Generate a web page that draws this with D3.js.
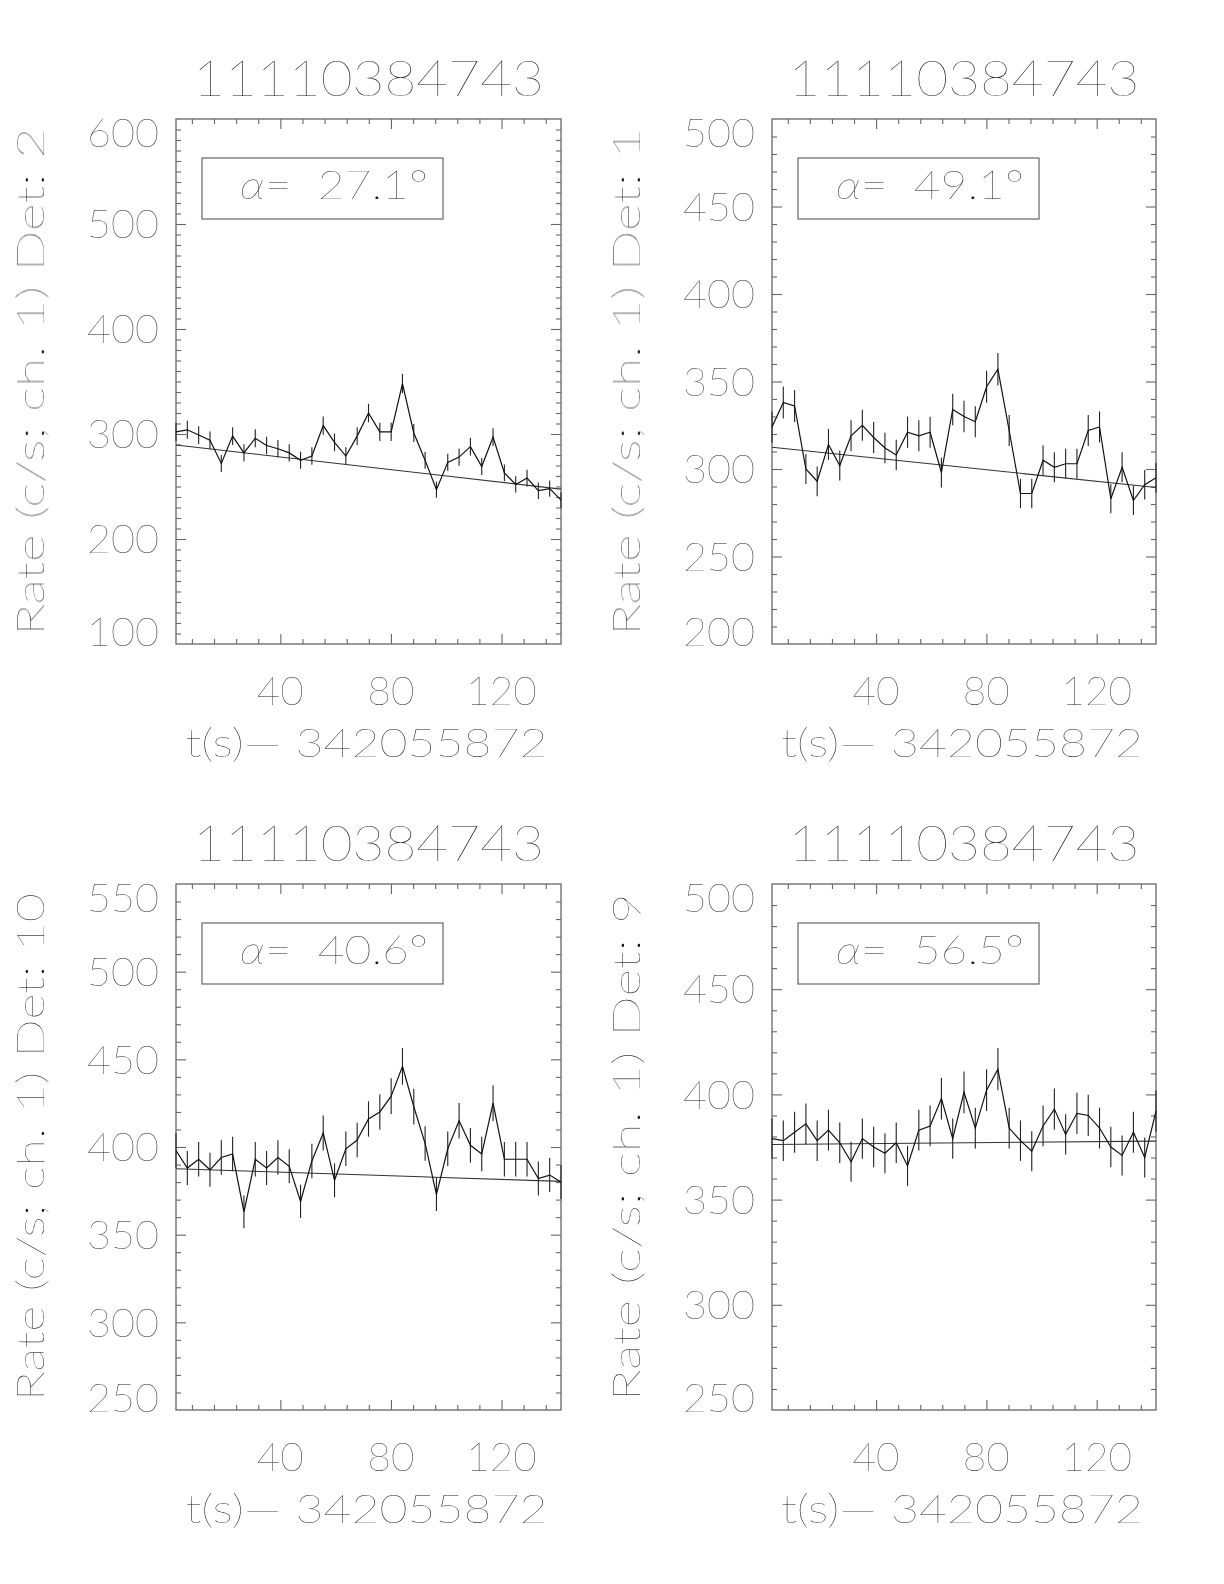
<!DOCTYPE html>
<html><head><meta charset="utf-8">
<script src="https://cdn.jsdelivr.net/npm/d3@7"></script>
<style>
body{margin:0;background:#fff}
svg text{font-family:Lato, Roboto, Inter, "DejaVu Sans", sans-serif;font-weight:100;fill:#111}
.txt{opacity:0.995}
</style></head><body>
<svg id="c" width="1224" height="1584"></svg>
<script>
// ---- data ----
const times = [2.25, 6.346, 10.442, 14.538, 18.634, 22.73, 26.826, 30.922, 35.018, 39.114, 43.21, 47.306, 51.402, 55.498, 59.594, 63.69, 67.786, 71.882, 75.978, 80.074, 84.17, 88.266, 92.362, 96.458, 100.554, 104.65, 108.746, 112.842, 116.938, 121.034, 125.13, 129.226, 133.322, 137.418, 141.514];

const rateDet2 = [302,304,299,294,272,298,282,296,289,286,282,275,279,308,292,279,298,320,302,302,348,301,275,247,273,278,288,269,297,263,252,258,246,248,237];
const errDet2  = [8.6,8.6,8.5,8.5,8.1,8.5,8.3,8.5,8.4,8.4,8.3,8.2,8.3,8.7,8.4,8.3,8.5,8.8,8.6,8.6,9.2,8.6,8.2,7.8,8.2,8.2,8.4,8.1,8.5,8.0,7.8,7.9,7.8,7.8,7.6];
const fitDet2  = [289.5, 247.5];

const rateDet1 = [324,338,336,300,293,314,302,319,325,318,312,308,321,319,321,298,334,330,327,347,357,322,286,286,305,301,303,303,322,324,283,301,282,291,295];
const errDet1  = [8.9,9.1,9.1,8.6,8.5,8.8,8.6,8.8,8.9,8.8,8.7,8.7,8.9,8.8,8.9,8.5,9.0,9.0,8.9,9.2,9.3,8.9,8.4,8.4,8.6,8.6,8.6,8.6,8.9,8.9,8.3,8.6,8.3,8.4,8.5];
const fitDet1  = [312.4, 289.4];

const rateDet10 = [398,388,393,387,394,396,363,393,388,394,389,369,392,408,381,399,404,416,420,429,446,423,402,373,399,415,401,396,425,393,393,393,382,384,380];
const errDet10  = [9.9,9.7,9.8,9.7,9.8,9.8,9.4,9.8,9.7,9.8,9.7,9.5,9.8,10.0,9.6,9.9,9.9,10.1,10.1,10.2,10.4,10.2,9.9,9.5,9.9,10.1,9.9,9.8,10.2,9.8,9.8,9.8,9.7,9.7,9.6];
const fitDet10  = [387.6, 380.4];

const rateDet9 = [379,378,382,386,378,383,377,368,379,375,372,377,366,383,385,398,379,401,384,402,412,384,378,373,385,393,381,391,390,384,375,371,382,370,392];
const errDet9  = [9.6,9.6,9.7,9.7,9.6,9.7,9.6,9.5,9.6,9.6,9.5,9.6,9.5,9.7,9.7,9.9,9.6,9.9,9.7,9.9,10.0,9.7,9.6,9.5,9.7,9.8,9.6,9.8,9.8,9.7,9.6,9.5,9.7,9.5,9.8];
const fitDet9  = [376.2, 377.8];

const titleText = "11110384743";
const xTitleText = "t(s)\u2014 342055872";
const detectors = ["2", "1", "10", "9"];
const alphas = ["27.1", "49.1", "40.6", "56.5"];
const xMajorTicks = [40, 80, 120];
const xMinorStep = 8;
const yTicksDet2 = [100, 200, 300, 400, 500, 600];
const yTicksDet1 = [200, 250, 300, 350, 400, 450, 500];
const yTicksDet10 = [250, 300, 350, 400, 450, 500, 550];
const yTicksDet9 = [250, 300, 350, 400, 450, 500];
const yMinorStep = 10;

// ---- layout ----
const panels = [
  {x0:176, x1:561, y0:119, y1:644, rate:rateDet2, err:errDet2, fit:fitDet2, yticks:yTicksDet2, det:detectors[0], alpha:alphas[0]},
  {x0:772, x1:1156, y0:119, y1:644, rate:rateDet1, err:errDet1, fit:fitDet1, yticks:yTicksDet1, det:detectors[1], alpha:alphas[1]},
  {x0:176, x1:561, y0:884, y1:1410, rate:rateDet10, err:errDet10, fit:fitDet10, yticks:yTicksDet10, det:detectors[2], alpha:alphas[2]},
  {x0:772, x1:1156, y0:884, y1:1410, rate:rateDet9, err:errDet9, fit:fitDet9, yticks:yTicksDet9, det:detectors[3], alpha:alphas[3]}
];

const svg = d3.select("#c");
const frameCol = "#666";

panels.forEach(p => {
  const g = svg.append("g");
  const tg = g.append("g").attr("class", "txt");
  const x = d3.scaleLinear().domain([times[0], times[times.length-1]]).range([p.x0, p.x1]);
  const ydom = [p.yticks[0], p.yticks[p.yticks.length-1]];
  const y = d3.scaleLinear().domain(ydom).range([p.y1, p.y0]);

  const xMinor = d3.range(xMinorStep, times[times.length-1], xMinorStep).filter(v => v > times[0] && !xMajorTicks.includes(v));
  const yMinor = d3.range(ydom[0] + yMinorStep, ydom[1], yMinorStep).filter(v => !p.yticks.includes(v));
  const yMajorInner = p.yticks.filter(v => v > ydom[0] && v < ydom[1]);

  function styleAxis(sel){
    sel.select(".domain").remove();
    sel.selectAll(".tick line").attr("stroke", frameCol).attr("stroke-width", 1.1);
    sel.selectAll(".tick text").remove();
  }
  g.append("g").attr("transform", `translate(0,${p.y1})`).call(d3.axisBottom(x).tickValues(xMajorTicks).tickSize(-10).tickFormat("")).call(styleAxis);
  g.append("g").attr("transform", `translate(0,${p.y1})`).call(d3.axisBottom(x).tickValues(xMinor).tickSize(-5).tickFormat("")).call(styleAxis);
  g.append("g").attr("transform", `translate(0,${p.y0})`).call(d3.axisTop(x).tickValues(xMajorTicks).tickSize(-10).tickFormat("")).call(styleAxis);
  g.append("g").attr("transform", `translate(0,${p.y0})`).call(d3.axisTop(x).tickValues(xMinor).tickSize(-5).tickFormat("")).call(styleAxis);
  g.append("g").attr("transform", `translate(${p.x0},0)`).call(d3.axisLeft(y).tickValues(yMajorInner).tickSize(-10).tickFormat("")).call(styleAxis);
  g.append("g").attr("transform", `translate(${p.x0},0)`).call(d3.axisLeft(y).tickValues(yMinor).tickSize(-5).tickFormat("")).call(styleAxis);
  g.append("g").attr("transform", `translate(${p.x1},0)`).call(d3.axisRight(y).tickValues(yMajorInner).tickSize(-10).tickFormat("")).call(styleAxis);
  g.append("g").attr("transform", `translate(${p.x1},0)`).call(d3.axisRight(y).tickValues(yMinor).tickSize(-5).tickFormat("")).call(styleAxis);

  g.append("rect").attr("x", p.x0).attr("y", p.y0).attr("width", p.x1 - p.x0).attr("height", p.y1 - p.y0)
    .attr("fill", "none").attr("stroke", frameCol).attr("stroke-width", 1.3);

  tg.selectAll(".xl").data(xMajorTicks).enter().append("text")
    .attr("x", d => x(d)).attr("y", p.y1 + 61).attr("text-anchor", "middle")
    .attr("font-size", 40).attr("textLength", d => String(d).length * 23.5).attr("lengthAdjust", "spacingAndGlyphs")
    .text(d => d);
  const cap = 28.5;
  tg.selectAll(".yl").data(p.yticks).enter().append("text")
    .attr("x", p.x0 - 17)
    .attr("y", d => {
      let base = y(d) + cap / 2;
      if (base - cap < p.y0 - 1) base = p.y0 - 1 + cap;
      if (base > p.y1 + 2) base = p.y1 + 2;
      return base;
    })
    .attr("text-anchor", "end").attr("font-size", 40)
    .attr("textLength", d => String(d).length * 24).attr("lengthAdjust", "spacingAndGlyphs")
    .text(d => d);

  tg.append("text").attr("x", (p.x0 + p.x1) / 2).attr("y", p.y0 - 23).attr("text-anchor", "middle")
    .attr("font-size", 49).attr("textLength", 351).attr("lengthAdjust", "spacingAndGlyphs").text(titleText);
  tg.append("text").attr("x", (p.x0 + p.x1) / 2 - 2).attr("y", p.y1 + 113).attr("text-anchor", "middle")
    .attr("font-size", 40).attr("textLength", 362).attr("lengthAdjust", "spacingAndGlyphs").text(xTitleText);
  const yc = (p.y0 + p.y1) / 2;
  const yt = p.x0 - 176 + 44;
  tg.append("text").attr("transform", `translate(${yt},${yc}) rotate(-90)`).attr("text-anchor", "middle")
    .attr("font-size", 38).attr("textLength", 508).attr("lengthAdjust", "spacingAndGlyphs")
    .text(`Rate (c/s; ch. 1) Det: ${p.det}`);

  g.append("rect").attr("x", p.x0 + 26).attr("y", p.y0 + 39).attr("width", 241).attr("height", 61)
    .attr("fill", "none").attr("stroke", frameCol).attr("stroke-width", 1.2);
  const at = tg.append("text").attr("x", p.x0 + 64).attr("y", p.y0 + 80).attr("font-size", 40)
    .attr("textLength", 188).attr("lengthAdjust", "spacingAndGlyphs");
  at.append("tspan").attr("font-style", "italic").text("α");
  at.append("tspan").text(`= \u00a0${p.alpha}°`);

  g.append("line").attr("x1", x(times[0])).attr("y1", y(p.fit[0]))
    .attr("x2", x(times[times.length-1])).attr("y2", y(p.fit[1]))
    .attr("stroke", "#333").attr("stroke-width", 1.1);

  g.selectAll(".eb").data(p.rate).enter().append("line")
    .attr("x1", (d, i) => x(times[i])).attr("x2", (d, i) => x(times[i]))
    .attr("y1", (d, i) => y(d - p.err[i])).attr("y2", (d, i) => y(d + p.err[i]))
    .attr("stroke", "#222").attr("stroke-width", 1.1);

  const line = d3.line().x((d, i) => x(times[i])).y(d => y(d));
  g.append("path").datum(p.rate).attr("d", line).attr("fill", "none").attr("stroke", "#111").attr("stroke-width", 1.2);
});
</script>
</body></html>
